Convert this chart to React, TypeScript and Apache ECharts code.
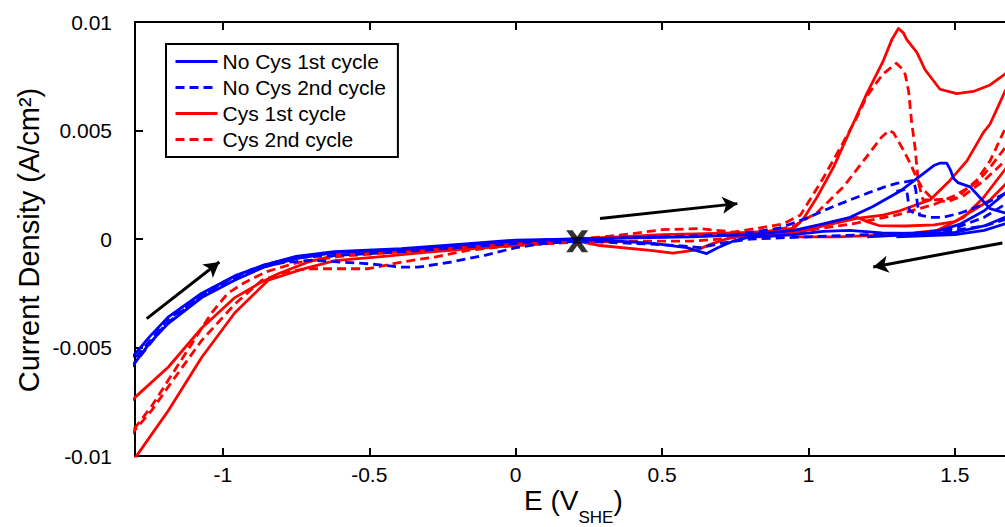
import React, { useEffect, useRef } from 'react';
import * as echarts from 'echarts';

const FONT = "'Liberation Sans', Arial, Helvetica, sans-serif";
const BLUE = '#0000ff';
const RED = '#ff0000';

const xRange = [-1.3, 1.671];
const yRange = [-0.01, 0.01];
const xTickValues = [-1, -0.5, 0, 0.5, 1, 1.5];
const xTickLabels = ['-1', '-0.5', '0', '0.5', '1', '1.5'];
const yTickValues = [-0.01, -0.005, 0, 0.005, 0.01];
const yTickLabels = ['-0.01', '-0.005', '0', '0.005', '0.01'];

const legendNames = ['No Cys 1st cycle', 'No Cys 2nd cycle', 'Cys 1st cycle', 'Cys 2nd cycle'];

// ---- No Cys 1st cycle (blue solid) ----
const noCys1Forward = [[0.21,0],[0.4,0.00005],[0.6,0.0001],[0.8,0.0002],[0.95,0.0004],[1.05,0.0007],[1.142,0.001],[1.22,0.0015],[1.312,0.0022],[1.391,0.003],[1.43,0.0034],[1.45,0.0035],[1.472,0.0035],[1.484,0.0032],[1.495,0.0028],[1.51,0.0026],[1.552,0.0024],[1.586,0.0019],[1.62,0.0014],[1.671,0.0012],[1.72,0.0012]];
const noCys1Reverse = [[1.75,0.0016],[1.671,0.001],[1.6,0.0006],[1.5,0.0003],[1.4,0.00025],[1.25,0.00028],[1.14,0.0004],[1.05,0.00035],[0.95,0.0002],[0.8,0.0001],[0.742,-0.0001],[0.69,-0.0004],[0.652,-0.00067],[0.584,-0.0004],[0.47,-0.0002],[0.35,-0.0001],[0.21,0],[0.0,-0.0001],[-0.16,-0.00025],[-0.39,-0.00048],[-0.62,-0.00063],[-0.75,-0.0009],[-0.86,-0.0013],[-0.96,-0.0019],[-1.072,-0.0027],[-1.187,-0.0039],[-1.25,-0.0048],[-1.3,-0.0057],[-1.33,-0.0062]];
const noCys1Return = [[-1.33,-0.0057],[-1.3,-0.0053],[-1.25,-0.0045],[-1.187,-0.0036],[-1.072,-0.0025],[-0.96,-0.0017],[-0.86,-0.0012],[-0.75,-0.0008],[-0.62,-0.00058],[-0.39,-0.00044],[-0.16,-0.00021],[0.0,-0.00005],[0.21,0]];
const noCys1EdgeA = [[1.72,0.0027],[1.671,0.0021],[1.6,0.0013],[1.52,0.0007],[1.45,0.0004],[1.35,0.0002],[1.2,0.0001]];
const noCys1EdgeB = [[1.72,0.001],[1.671,0.0007],[1.6,0.0004],[1.5,0.0002],[1.3,0.0001]];

// ---- No Cys 2nd cycle (blue dashed) ----
const noCys2Forward = [[0.21,0],[0.5,0.0001],[0.75,0.0002],[0.9,0.0005],[1.0,0.001],[1.085,0.0015],[1.142,0.0018],[1.199,0.0021],[1.26,0.0024],[1.301,0.00256],[1.358,0.0027],[1.366,0.0023],[1.372,0.0016],[1.38,0.0011],[1.415,0.001],[1.46,0.001],[1.52,0.0012],[1.6,0.0016],[1.671,0.0021],[1.72,0.0026]];
const noCys2Drop = [[1.3,0.0022],[1.335,0.0023],[1.34,0.0018],[1.345,0.0013],[1.38,0.0011]];
const noCys2Reverse = [[1.75,0.0021],[1.671,0.0016],[1.6,0.001],[1.5,0.0005],[1.4,0.0003],[1.2,0.0002],[1.0,0.0001],[0.8,0.0],[0.7,-0.0002],[0.63,-0.0004],[0.55,-0.0003],[0.4,-0.0002],[0.21,-0.0001],[0.1,-0.0002],[0.0,-0.0004],[-0.105,-0.00075],[-0.219,-0.00106],[-0.334,-0.0013],[-0.389,-0.0013],[-0.504,-0.00114],[-0.697,-0.00098],[-0.8,-0.0011],[-0.9,-0.0014],[-1.0,-0.002],[-1.1,-0.0029],[-1.2,-0.004],[-1.3,-0.0057],[-1.33,-0.0062]];
const noCys2Return = [[-1.33,-0.0059],[-1.3,-0.0055],[-1.187,-0.0037],[-1.072,-0.0026],[-0.96,-0.0018],[-0.86,-0.0012],[-0.75,-0.00085],[-0.6,-0.00075],[-0.4,-0.0006],[-0.2,-0.0004],[0.0,-0.0002],[0.21,0]];
const noCys2Edge = [[1.72,0.0012],[1.671,0.0009],[1.6,0.0006],[1.5,0.0004],[1.4,0.0002]];

// ---- Cys 1st cycle (red solid) ----
const cys1Forward = [[0.21,0],[0.35,0.0001],[0.5,0.0002],[0.65,0.00025],[0.8,0.0003],[0.9,0.0004],[0.95,0.0005],[0.981,0.0009],[1.028,0.0019],[1.085,0.0033],[1.142,0.005],[1.199,0.0067],[1.255,0.0082],[1.285,0.0092],[1.307,0.0097],[1.324,0.0095],[1.335,0.0092],[1.37,0.0086],[1.398,0.0078],[1.449,0.0069],[1.506,0.0067],[1.563,0.0068],[1.62,0.0071],[1.671,0.0076],[1.75,0.0088],[1.82,0.0104]];
const cys1Reverse = [[1.82,0.0104],[1.75,0.0088],[1.671,0.0068],[1.62,0.0053],[1.597,0.0049],[1.541,0.0036],[1.483,0.0027],[1.415,0.0018],[1.312,0.0013],[1.254,0.0011],[1.165,0.00095],[1.05,0.0006],[0.94,0.0002],[0.85,0.0001],[0.742,0.0001],[0.674,-0.0002],[0.619,-0.0005],[0.537,-0.00065],[0.459,-0.00052],[0.288,-0.0003],[0.21,-0.0001],[0.0,-0.0003],[-0.1,-0.0004],[-0.3,-0.0006],[-0.45,-0.0008],[-0.617,-0.001],[-0.731,-0.0014],[-0.845,-0.0019],[-0.959,-0.0034],[-1.072,-0.00545],[-1.186,-0.0079],[-1.3,-0.0101],[-1.33,-0.0108]];
const cys1Return = [[-1.33,-0.0077],[-1.3,-0.0073],[-1.186,-0.0059],[-1.072,-0.0041],[-0.959,-0.0027],[-0.87,-0.002],[-0.811,-0.0016],[-0.708,-0.00106],[-0.617,-0.00075],[-0.446,-0.0006],[-0.276,-0.00044],[-0.048,-0.00021],[0.1,-0.0001],[0.21,0]];
const cys1Bump = [[1.72,0.0032],[1.671,0.0025],[1.62,0.0018],[1.56,0.0013],[1.5,0.0008],[1.43,0.00065],[1.33,0.0006],[1.24,0.00062],[1.2,0.0008],[1.165,0.001],[1.13,0.00092],[1.08,0.00078],[1.03,0.00055],[0.91,0.00025],[0.8,0.00012]];
const cys1Edge = [[1.72,0.0042],[1.671,0.0032],[1.597,0.0019],[1.53,0.001],[1.44,0.0004],[1.3,0.0002],[1.1,0.0001],[0.95,0.0001]];

// ---- Cys 2nd cycle (red dashed) ----
const cys2Forward = [[0.21,0],[0.3,0.0001],[0.4,0.00025],[0.5,0.00043],[0.63,0.00048],[0.742,0.00032],[0.83,0.0005],[0.914,0.0007],[0.972,0.0011],[1.0,0.0017],[1.05,0.0028],[1.1,0.004],[1.165,0.0056],[1.2,0.0066],[1.254,0.0076],[1.3,0.0081],[1.315,0.0079],[1.33,0.0076],[1.342,0.0068],[1.352,0.0054],[1.364,0.0042],[1.375,0.0026],[1.391,0.0018],[1.438,0.0018],[1.506,0.0019],[1.574,0.0027],[1.62,0.0036],[1.665,0.0049],[1.72,0.0062]];
const cys2Reverse = [[1.75,0.0058],[1.671,0.0042],[1.62,0.0033],[1.575,0.0026],[1.5,0.002],[1.43,0.0016],[1.3,0.0011],[1.15,0.0007],[1.0,0.0004],[0.85,0.0002],[0.7,0.0],[0.6,-0.0001],[0.4,-0.0001],[0.21,-0.00015],[0.0,-0.00029],[-0.163,-0.00052],[-0.276,-0.00083],[-0.389,-0.00106],[-0.504,-0.00137],[-0.709,-0.00137],[-0.78,-0.0015],[-0.867,-0.0019],[-0.959,-0.003],[-1.072,-0.00467],[-1.186,-0.0068],[-1.243,-0.0079],[-1.3,-0.0088],[-1.33,-0.0093]];
const cys2Return = [[-1.33,-0.0093],[-1.3,-0.0087],[-1.243,-0.0077],[-1.186,-0.0065],[-1.1,-0.0047],[-1.038,-0.0034],[-0.983,-0.0025],[-0.925,-0.002],[-0.85,-0.0015],[-0.75,-0.0011],[-0.6,-0.0008],[-0.45,-0.00065],[-0.3,-0.0005],[-0.1,-0.0003],[0.1,-0.0001],[0.21,0]];
const cys2Inner = [[0.85,0.0003],[0.95,0.0006],[1.028,0.0012],[1.119,0.0024],[1.199,0.0038],[1.25,0.0047],[1.275,0.005],[1.29,0.0049],[1.324,0.0041],[1.347,0.0035],[1.37,0.0028],[1.39,0.0023],[1.42,0.0019],[1.47,0.0017],[1.53,0.002],[1.6,0.0027],[1.671,0.0036],[1.72,0.0044]];

// open-circuit start marker and scan-direction arrows (data coordinates)
const ocpPoint = [[0.21, -0.0001]];
const scanArrows = [
  [[-1.26, -0.00367], [-1.012, -0.00106]],
  [[0.288, 0.00094], [0.757, 0.00163]],
  [[1.662, -0.00018], [1.221, -0.00129]],
];

function tickLabel(values: number[], labels: string[], v: number) {
  const i = values.findIndex((t) => Math.abs(t - v) < 1e-9);
  return i >= 0 ? labels[i] : '';
}

function lineSeries(name: string, data: number[][], color: string, dashed: boolean) {
  return {
    type: 'line',
    name,
    data,
    symbol: 'none',
    showSymbol: false,
    clip: true,
    silent: true,
    emphasis: { disabled: true },
    itemStyle: { color },
    lineStyle: { color, width: 2.8, type: dashed ? [9, 5] : 'solid', cap: 'butt', join: 'round' },
    z: 2,
  };
}

export default function App() {
  const ref = useRef<HTMLDivElement>(null);

  useEffect(() => {
    if (!ref.current) return;
    const chart = echarts.init(ref.current, null, { renderer: 'svg' });

    const series: any[] = [
      lineSeries(legendNames[2], cys1Forward, RED, false),
      lineSeries(legendNames[2], cys1Reverse, RED, false),
      lineSeries(legendNames[2], cys1Return, RED, false),
      lineSeries(legendNames[2], cys1Bump, RED, false),
      lineSeries(legendNames[2], cys1Edge, RED, false),
      lineSeries(legendNames[3], cys2Forward, RED, true),
      lineSeries(legendNames[3], cys2Reverse, RED, true),
      lineSeries(legendNames[3], cys2Return, RED, true),
      lineSeries(legendNames[3], cys2Inner, RED, true),
      lineSeries(legendNames[0], noCys1Forward, BLUE, false),
      lineSeries(legendNames[0], noCys1Reverse, BLUE, false),
      lineSeries(legendNames[0], noCys1Return, BLUE, false),
      lineSeries(legendNames[0], noCys1EdgeA, BLUE, false),
      lineSeries(legendNames[0], noCys1EdgeB, BLUE, false),
      lineSeries(legendNames[1], noCys2Forward, BLUE, true),
      lineSeries(legendNames[1], noCys2Drop, BLUE, true),
      lineSeries(legendNames[1], noCys2Reverse, BLUE, true),
      lineSeries(legendNames[1], noCys2Return, BLUE, true),
      lineSeries(legendNames[1], noCys2Edge, BLUE, true),
      {
        type: 'scatter',
        name: 'OCP',
        data: ocpPoint,
        symbol: 'path://M0 0H7L12 7L17 0H24L15.5 12L24 24H17L12 17L7 24H0L8.5 12Z',
        symbolSize: [22, 22],
        itemStyle: { color: '#000' },
        silent: true,
        z: 5,
        markLine: {
          silent: true,
          symbol: ['none', 'arrow'],
          symbolSize: [13, 15],
          lineStyle: { color: '#000', width: 3, type: 'solid' },
          itemStyle: { color: '#000' },
          label: { show: false },
          emphasis: { disabled: true },
          data: scanArrows.map(([a, b]) => [{ coord: a }, { coord: b }]),
        },
      },
    ];

    const axisLine = { show: true, onZero: false, lineStyle: { color: '#000', width: 2 } };

    chart.setOption({
      animation: false,
      backgroundColor: '#fff',
      grid: { left: 135, right: 0, top: 22, bottom: 71, containLabel: false, outerBoundsMode: 'none' },
      xAxis: [
        {
          type: 'value',
          min: xRange[0],
          max: xRange[1],
          position: 'bottom',
          axisLine,
          splitLine: { show: false },
          axisTick: { show: true, inside: true, length: 8, lineStyle: { color: '#000', width: 2 }, customValues: xTickValues },
          axisLabel: {
            show: true,
            customValues: xTickValues,
            formatter: (v: number) => tickLabel(xTickValues, xTickLabels, v),
            color: '#000',
            fontSize: 21,
            fontFamily: FONT,
            margin: 8,
          },
        },
        {
          type: 'value',
          min: xRange[0],
          max: xRange[1],
          position: 'top',
          axisLine,
          splitLine: { show: false },
          axisTick: { show: true, inside: true, length: 8, lineStyle: { color: '#000', width: 2 }, customValues: xTickValues },
          axisLabel: { show: false },
        },
      ],
      yAxis: {
        type: 'value',
        min: yRange[0],
        max: yRange[1],
        axisLine,
        splitLine: { show: false },
        axisTick: { show: true, inside: true, length: 8, lineStyle: { color: '#000', width: 2 }, customValues: yTickValues },
        axisLabel: {
          show: true,
          customValues: yTickValues,
          formatter: (v: number) => tickLabel(yTickValues, yTickLabels, v),
          color: '#000',
          fontSize: 21,
          fontFamily: FONT,
          margin: 23,
        },
      },
      legend: {
        data: legendNames,
        orient: 'vertical',
        left: 166,
        top: 44,
        padding: [7, 12, 7, 8],
        itemWidth: 42,
        itemHeight: 14,
        itemGap: 5,
        borderColor: '#000',
        borderWidth: 2,
        borderRadius: 0,
        backgroundColor: '#fff',
        selectedMode: false,
        textStyle: { fontSize: 21, color: '#000', fontFamily: FONT, lineHeight: 21 },
        itemStyle: { opacity: 0, borderWidth: 0 },
        lineStyle: { width: 3, opacity: 1 },
      },
      graphic: [
        {
          type: 'text',
          x: 29,
          y: 240,
          rotation: Math.PI / 2,
          silent: true,
          style: {
            text: 'Current Density (A/cm\u00B2)',
            align: 'center',
            verticalAlign: 'middle',
            fill: '#000',
            fontSize: 29,
            fontFamily: FONT,
          },
        },
        {
          type: 'text',
          x: 524,
          y: 486,
          silent: true,
          style: {
            text: '{m|E (V}{s|SHE}{m|)}',
            align: 'left',
            verticalAlign: 'top',
            fill: '#000',
            rich: {
              m: { fontSize: 28, fontFamily: FONT, fill: '#000', lineHeight: 30, verticalAlign: 'top' },
              s: { fontSize: 17, fontFamily: FONT, fill: '#000', lineHeight: 40, verticalAlign: 'bottom' },
            },
          },
        },
      ],
      series,
    });

    return () => chart.dispose();
  }, []);

  return (
    <div
      ref={ref}
      style={{ position: 'fixed', left: 0, top: 0, width: 1005, height: 527, background: '#fff' }}
    />
  );
}
